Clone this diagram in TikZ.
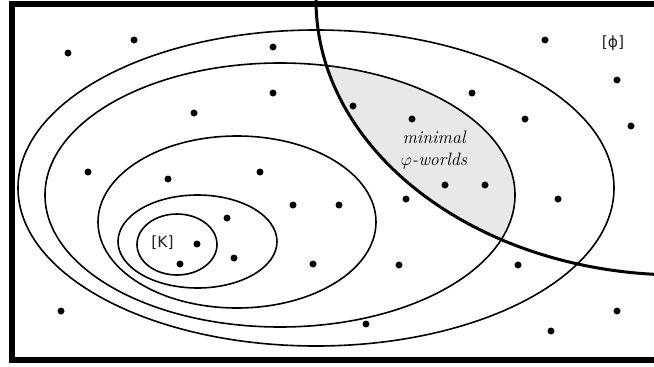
\documentclass[tikz,border=0pt]{standalone}
\usepackage{fontspec}
\newfontfamily\labelfont{DejaVu Sans}
\definecolor{phishade}{RGB}{232,232,232}
\definecolor{labelgray}{RGB}{35,35,35}
\begin{document}
\begin{tikzpicture}[x=1pt,y=-1pt,
  ring/.style={draw=black,line width=1.6pt},
  world/.style={fill=black},
  setlabel/.style={font=\labelfont\fontsize{15.5}{18}\selectfont,text=labelgray,inner sep=0pt},
  minlabel/.style={font=\fontsize{18}{22}\selectfont\itshape,align=center,inner sep=0pt}]
\path[use as bounding box] (0,0) rectangle (654,367);
\clip (0,0) rectangle (654,367);
% shaded minimal phi-worlds
\begin{scope}
  \clip (280,195) ellipse [x radius=235pt, y radius=132pt];
  \fill[phishade] (680,0) ellipse [x radius=364pt, y radius=275pt];
\end{scope}
% frame
\draw[line width=6pt] (680,4) -- (12,4) -- (12,360) -- (680,360);
% nested spheres
\draw[ring] (316,188) ellipse [x radius=298pt, y radius=158pt];
\draw[ring] (280,195) ellipse [x radius=235pt, y radius=132pt];
\draw[ring] (237,222) ellipse [x radius=139pt, y radius=86pt];
\draw[ring] (197.5,241.5) ellipse [x radius=79.5pt, y radius=46.5pt];
\draw[ring] (177,244.5) ellipse [x radius=40pt, y radius=30.5pt];
% phi boundary
\draw[line width=3pt] (680,0) ellipse [x radius=364pt, y radius=275pt];
% worlds
\foreach \p in {(68,53),(134,40),(273,47),(545,40),(617,80),(631,126),(273,93),
  (353,106),(412,119),(472,93),(525,119),(194,113),(88,172),(168,179),(260,172),
  (293,205),(339,205),(406,199),(445,185),(485,185),(558,199),(227,218),(197,244),
  (234,258),(180,264),(313,264),(399,265),(518,265),(61,311),(366,324),(551,331),(617,311)}
  \fill[world] \p circle[radius=3.5pt];
% labels
\node[setlabel] (K) at (162.5,243) {[K]};
\node[setlabel] (phi) at (613,43) {[ϕ]};
\node[minlabel] (min) at (434,150) {minimal\\$\varphi$-worlds};
\end{tikzpicture}
\end{document}
